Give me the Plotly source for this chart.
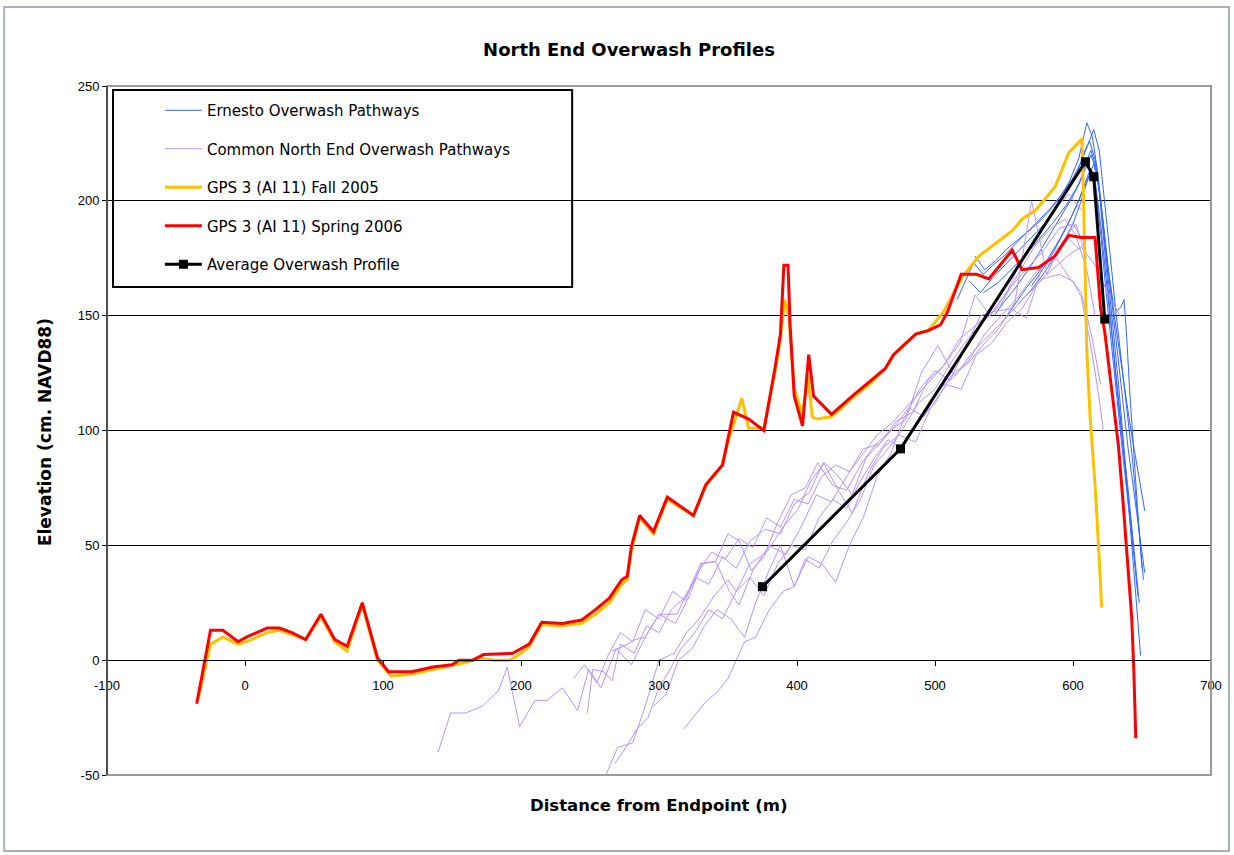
import plotly.graph_objects as go

# ---- Beach profile data (distance from endpoint in m, elevation in cm NAVD88) ----
spring06_x = [-35, -25, -16, -5, 1, 8, 16, 25, 34, 44, 55, 65, 74, 85, 96, 104, 121, 136, 150, 155,
              165, 173, 194, 206, 215, 230, 244, 254, 264, 273, 277, 280, 286, 296, 306, 325, 334,
              346, 348, 354, 365, 376, 384, 388, 390.5, 393.5, 395, 398, 404, 408.5, 412, 425, 440,
              454, 464, 470, 486, 495, 504, 509, 519, 530, 539, 556, 563, 575, 587, 597, 606, 616,
              620, 623, 629, 633, 636.5, 640, 642.5, 644, 645, 645.5]
spring06_y = [-19, 13, 13, 8, 10, 12, 14, 14, 12, 9, 20, 9, 6, 25, 1, -5, -5, -3, -2, 0,
              0, 2.5, 3, 7, 16.5, 16, 17.5, 22, 27, 35, 36.5, 49.5, 63, 56, 71, 63, 76.5,
              85, 91, 108, 105, 100, 127, 142, 172, 172, 146, 115, 102, 133, 115, 107, 115,
              122, 127, 133, 142, 143.5, 146, 151.5, 168, 168, 166, 178.5, 170, 171, 176, 185, 184, 184,
              153, 143, 114, 93, 67, 41, 19, -3, -19, -34]

fall05_x = [-34, -25, -16, -5, 1, 8, 16, 25, 34, 44, 55, 65, 74, 85, 96, 106, 121, 136, 150, 160,
            170, 180, 192, 200, 206, 215, 230, 244, 254, 264, 273, 277, 280, 286, 296, 306, 325,
            334, 346, 350, 360, 365, 372, 376, 384, 388, 391, 394, 398, 404, 408, 411, 414, 425,
            440, 454, 464, 470, 486, 495, 506, 520, 532, 549, 556, 563, 573, 580, 587, 597, 606.5,
            607.5, 609, 610, 612.4, 616, 618.4, 620.8]
fall05_y = [-17, 7, 10, 7, 8, 10, 12, 13, 11, 9, 19, 8, 4, 24, 0, -7, -6, -4, -2, -1,
            1, 0, 0, 3, 6, 15.5, 15, 16, 20, 25, 33, 35, 48, 62, 55, 70, 63,
            76, 85, 95, 114, 101, 101, 101, 125, 140, 157, 150, 118, 107, 124, 106, 105, 106,
            114, 121, 127, 133, 142, 143.5, 151.5, 167, 176, 184, 187, 192, 196, 201, 206, 221, 227,
            205, 160, 135, 106, 76, 51, 23]

avg_x = [375, 475, 609, 615, 623]
avg_y = [32, 92, 217, 210.5, 148.5]

# Ernesto overwash pathways
ernesto = [
    ([516, 522, 528, 535, 542, 550, 558, 566, 574, 582, 590, 597, 604, 610, 614, 618, 622, 626, 630, 634, 638, 642, 646, 650, 652],
     [157, 165, 173, 168, 172, 176, 181, 186, 190, 195, 201, 208, 218, 234, 228, 212, 190, 168, 150, 132, 116, 100, 85, 72, 65]),
    ([529, 536, 544, 552, 560, 568, 576, 584, 592, 600, 606, 611, 615, 619, 623, 627, 631, 635, 639, 643, 647, 651],
     [176, 170, 174, 179, 183, 187, 192, 197, 203, 210, 217, 225, 231, 222, 200, 176, 152, 130, 110, 88, 62, 35]),
    ([543, 550, 557, 564, 571, 578, 585, 592, 599, 605, 609, 613, 617, 621, 625, 629, 633, 637, 641, 645, 649],
     [150, 156, 161, 167, 173, 180, 187, 194, 201, 208, 216, 222, 214, 194, 170, 146, 120, 92, 62, 30, 2]),
    ([535, 545, 555, 565, 575, 585, 595, 603, 609, 613, 617, 621, 625, 629, 632, 635, 637, 639, 641, 644, 647, 650],
     [160, 164, 170, 176, 183, 190, 198, 206, 214, 220, 213, 195, 172, 156, 152, 154, 157, 140, 118, 90, 64, 40]),
    ([550, 558, 566, 574, 582, 590, 598, 604, 608, 612, 616, 620, 624, 628, 632, 636, 640, 644, 648],
     [148, 155, 162, 168, 175, 183, 192, 200, 207, 213, 209, 190, 166, 142, 118, 96, 74, 50, 25]),
    ([525, 533, 541, 549, 557, 565, 573, 581, 589, 597, 603, 608, 612, 616, 620, 624, 628, 632, 636, 640, 644, 648, 652],
     [165, 160, 166, 171, 176, 181, 186, 191, 198, 205, 212, 221, 226, 218, 200, 178, 156, 134, 112, 92, 74, 56, 38]),
    ([560, 568, 576, 584, 592, 600, 606, 611, 615, 619, 623, 627, 631, 635, 639, 643, 647],
     [155, 160, 166, 173, 181, 190, 200, 210, 216, 205, 178, 150, 124, 100, 76, 52, 28]),
    ([570, 578, 586, 594, 602, 608, 612, 616, 620, 624, 628, 632, 636, 640, 644],
     [163, 170, 178, 187, 197, 205, 211, 207, 186, 160, 136, 112, 90, 68, 48]),
]

# Common north end overwash pathways
common = [
    ([140, 149, 160, 172, 184, 190, 199, 210, 219, 230, 241, 249, 258, 269, 280, 290, 300, 312, 322, 331, 341, 351,
      358, 368, 380, 392, 403, 414, 425, 436, 448, 459, 470, 481, 492, 503, 515, 527, 540, 553, 565, 578, 590, 600,
      606, 612, 618, 622],
     [-40, -23, -23, -20, -13, -3, -29, -17.5, -17.5, -12, -22, -4, -12, 5, -2, 10, 20, 16, 28, 42, 43, 30,
      24, 39, 50, 46, 58, 72, 69, 80, 92, 94, 101, 110, 106, 118, 124, 134, 142, 150, 158, 166, 168, 165,
      158, 140, 118, 100]),
    ([248, 252, 260, 266, 272, 282, 291, 300, 309, 318, 327, 336, 346, 356, 366, 377, 388, 398, 409, 419, 430, 440,
      452, 463, 474, 486, 497, 508, 519, 530, 541, 552, 563, 574, 585, 596, 606, 616, 625, 634],
     [-23, -4, -5, -9, 7, 3, 15, 12, 22, 27, 36, 33, 45, 40, 52, 57, 55, 68, 73, 86, 74, 64,
      82, 93, 98, 95, 110, 120, 118, 133, 138, 147, 153, 164, 170, 176, 180, 172, 160, 150]),
    ([258, 270, 281, 290, 300, 311, 320, 329, 340, 350, 356, 366, 378, 390, 401, 410, 420, 430, 440, 450, 461, 472,
      484, 495, 506, 518, 529, 540, 552, 563, 574, 586, 597, 606],
     [-55, -38, -36, -20, 0, 3, 12, 18, 28, 35, 30, 42, 47, 58, 66, 78, 86, 80, 72, 88, 95, 104,
      108, 122, 128, 138, 159, 150, 160, 175, 185, 196, 203, 196]),
    ([318, 326, 334, 342, 350, 356, 362, 370, 380, 390, 398, 406, 416, 426, 436, 446, 456, 466, 476, 488, 500, 512,
      524, 536, 548, 560, 572, 584, 594, 602, 610, 616],
     [-30, -24, -18, -14, -8, 0, 8, 10, 22, 30, 32, 44, 40, 52, 60, 70, 85, 92, 100, 112, 118, 130,
      140, 148, 155, 168, 180, 188, 192, 185, 170, 150]),
    ([266, 274, 283, 290, 300, 306, 313, 322, 330, 341, 350, 358, 367, 376, 386, 396, 406, 415, 426, 436, 446, 457,
      468, 479, 490, 502, 514, 525, 536, 547, 558, 570, 581, 592, 602, 610],
     [4, 6, 9, 10, 20, 20, 20, 31, 42, 43, 55, 52, 39, 45, 60, 72, 75, 86, 76, 74, 85, 94,
      100, 105, 125, 137, 124, 130, 138, 145, 156, 200, 168, 182, 190, 175]),
    ([296, 305, 314, 324, 333, 342, 352, 362, 370, 379, 388, 398, 408, 418, 428, 438, 448, 458, 468, 478, 489, 500,
      511, 522, 533, 544, 555, 566, 577, 588, 598, 606, 614, 620],
     [-20, -15, 0, 5, 15, 22, 18, 10, 25, 38, 50, 32, 45, 42, 34, 50, 62, 80, 90, 106, 118, 126,
      122, 136, 150, 152, 153, 149, 170, 175, 166, 160, 140, 120]),
    ([238, 246, 255, 263, 272, 281, 290, 300, 310, 319, 328, 338, 348, 358, 368, 378, 388, 398, 408, 418, 428, 438,
      448, 458, 470, 482, 494, 506, 518, 530, 542, 554, 566, 578, 590, 600, 608],
     [-8, -2, -10, 2, 12, 8, 22, 18, 30, 26, 38, 47, 44, 53, 49, 62, 58, 70, 68, 80, 85, 82,
      90, 98, 104, 112, 120, 128, 140, 146, 152, 162, 170, 178, 188, 190, 182]),
    ([268, 276, 284, 292, 300, 308, 316, 326, 336, 346, 356, 366, 376, 386, 396, 406, 416, 426, 436, 446, 456, 466,
      476, 488, 500, 512, 524, 536, 548, 560, 572, 584, 596, 606],
     [-45, -38, -30, -25, -12, -4, 5, 12, 22, 18, 30, 36, 28, 42, 50, 48, 62, 70, 66, 78, 88, 96,
      92, 104, 112, 124, 130, 142, 150, 158, 168, 176, 184, 178]),
]

x_ticks = [-100, 0, 100, 200, 300, 400, 500, 600, 700]
y_ticks = [-50, 0, 50, 100, 150, 200, 250]

FONT = "Liberation Sans, Arial, sans-serif"
WIDE = "DejaVu Sans, Verdana, sans-serif"
BLUE = "#3366FF"
LAVENDER = "#B794FF"
GOLD = "#FFC000"
RED = "#FF0000"

fig = go.Figure()

for i, (xs, ys) in enumerate(ernesto):
    fig.add_trace(go.Scatter(x=xs, y=ys, mode="lines", line=dict(color=BLUE, width=1),
                             name="Ernesto Overwash Pathways", legendgroup="ernesto",
                             legendrank=1, showlegend=(i == 0)))

for i, (xs, ys) in enumerate(common):
    fig.add_trace(go.Scatter(x=xs, y=ys, mode="lines", line=dict(color=LAVENDER, width=1),
                             name="Common North End Overwash Pathways", legendgroup="common",
                             legendrank=2, showlegend=(i == 0)))

fig.add_trace(go.Scatter(x=fall05_x, y=fall05_y, mode="lines", line=dict(color=GOLD, width=3),
                         name="GPS 3 (AI 11) Fall 2005", legendgroup="fall", legendrank=3))
fig.add_trace(go.Scatter(x=spring06_x, y=spring06_y, mode="lines", line=dict(color=RED, width=3),
                         name="GPS 3 (AI 11) Spring 2006", legendgroup="spring", legendrank=4))
fig.add_trace(go.Scatter(x=avg_x, y=avg_y, mode="lines+markers", line=dict(color="black", width=3),
                         marker=dict(symbol="square", size=9, color="black"),
                         name="Average Overwash Profile", legendgroup="avg", legendrank=5))

fig.update_layout(
    width=1234, height=855, autosize=False,
    margin=dict(l=107, r=21, t=86, b=80),
    paper_bgcolor="white", plot_bgcolor="white",
    font=dict(family=FONT, color="black", size=13),
    title=dict(text="<b>North End Overwash Profiles</b>", x=629 / 1234, xanchor="center",
               y=1 - 50 / 855, yanchor="middle", font=dict(size=18, family=WIDE, color="black")),
    xaxis=dict(range=[-100, 700], tickvals=x_ticks, ticktext=[str(v) for v in x_ticks],
               anchor="free", position=50 / 300, showline=True, linecolor="black", linewidth=1,
               ticks="outside", ticklen=5, tickcolor="black", showgrid=False, zeroline=False,
               ticklabelstandoff=8, tickfont=dict(size=13, family=FONT, color="black")),
    yaxis=dict(range=[-50, 250], tickvals=y_ticks, ticktext=[str(v) for v in y_ticks],
               showline=True, linecolor="black", linewidth=1, ticks="outside", ticklen=4,
               tickcolor="black", showgrid=True, gridcolor="black", gridwidth=1,
               zeroline=True, zerolinecolor="black", zerolinewidth=1,
               tickfont=dict(size=13, family=FONT, color="black")),
    showlegend=True,
    legend=dict(x=(160 - 107) / 1106, y=(775 - 94) / 689, xanchor="left", yanchor="top",
                bgcolor="rgba(0,0,0,0)", borderwidth=0, traceorder="grouped",
                tracegroupgap=16, itemwidth=37,
                font=dict(size=15, family=WIDE, color="black")),
    annotations=[
        dict(text="<b>Elevation (cm. NAVD88)</b>", xref="paper", yref="paper",
             x=(45 - 107) / 1106, y=(775 - 432) / 689, textangle=-90, showarrow=False,
             xanchor="center", yanchor="middle", font=dict(size=17, family=WIDE, color="black")),
        dict(text="<b>Distance from Endpoint (m)</b>", xref="paper", yref="paper",
             x=(660 - 107) / 1106, y=(775 - 805) / 689, showarrow=False,
             xanchor="center", yanchor="middle", font=dict(size=16.5, family=WIDE, color="black")),
    ],
    shapes=[
        # legend box (opaque, hides the gridlines behind it)
        dict(type="rect", xref="paper", yref="paper",
             x0=(113 - 107) / 1106, x1=(573 - 107) / 1106,
             y0=(775 - 287) / 689, y1=(775 - 90) / 689,
             line=dict(color="black", width=2), fillcolor="white", layer="between"),
        # plot-area frame
        dict(type="rect", xref="paper", yref="paper", x0=0, x1=1, y0=0, y1=1,
             line=dict(color="#9A9A9A", width=2), layer="above"),
        # y axis line on top of the frame
        dict(type="line", xref="paper", yref="paper", x0=0, x1=0, y0=0, y1=1,
             line=dict(color="black", width=1), layer="above"),
        # chart-area border
        dict(type="rect", xref="paper", yref="paper",
             x0=(4 - 107) / 1106, x1=(1231 - 107) / 1106,
             y0=(775 - 851) / 689, y1=(775 - 7) / 689,
             line=dict(color="#A8B0BC", width=2), layer="above"),
    ],
)

fig.write_html("out.html")
